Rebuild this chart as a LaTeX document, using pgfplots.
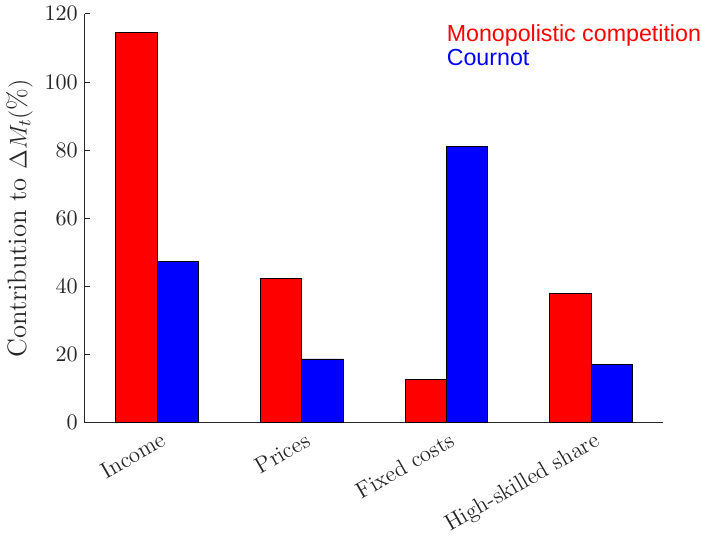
\documentclass[border=0pt]{standalone}
\usepackage{fontspec}
\usepackage{pgfplots}
\pgfplotsset{compat=1.18}
\newfontfamily\arial{Liberation Sans}
\definecolor{axgray}{RGB}{38,38,38}

\begin{document}
\begin{tikzpicture}
    % contribution of each channel, two market structures
    \begin{axis}[
        scale only axis,
        clip=false,
        width=286.5pt,
        height=202.5pt,
        ybar,
        bar width=0.286,
        xmin=0.5, xmax=4.5,
        ymin=0, ymax=120,
        ytick={0,20,...,120},
        xtick={1,2,3,4},
        xticklabels={Income, Prices, Fixed costs, High-skilled share},
        x tick label style={rotate=30, anchor=north east, inner sep=1pt, yshift=-3pt},
        major x tick style={draw=none},
        tick align=inside,
        major tick length=2.7pt,
        axis x line*=bottom,
        axis y line*=left,
        axis line style={axgray, line width=0.5pt},
        every tick/.style={axgray},
        tick label style={font=\fontsize{11.3}{13}\selectfont, text=axgray},
        label style={font=\fontsize{13.2}{15}\selectfont, text=axgray},
        ylabel={Contribution to $\Delta M_t(\%)$},
        ylabel style={yshift=-1pt},
    ]
    \addplot[fill=red, draw=black, bar shift=-0.143] coordinates {
        (1,114.6) (2,42.2) (3,12.6) (4,37.9)
    };
    \addplot[fill=blue, draw=black, bar shift=0.143] coordinates {
        (1,47.2) (2,18.7) (3,81.1) (4,17.2)
    };
    \node[anchor=north west, inner sep=0pt, align=left, text=red,
          font=\arial\fontsize{11.5}{12}\selectfont]
        at (rel axis cs:0.625,0.975) {Monopolistic competition};
    \node[anchor=north west, inner sep=0pt, align=left, text=blue,
          font=\arial\fontsize{11.5}{12}\selectfont]
        at (rel axis cs:0.625,0.915) {Cournot};
    \end{axis}
\end{tikzpicture}
\end{document}
